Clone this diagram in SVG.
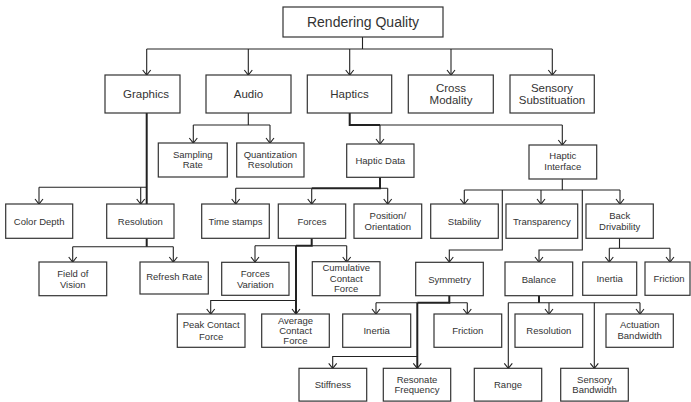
<svg xmlns="http://www.w3.org/2000/svg" width="691" height="402" viewBox="0 0 691 402">
<style>
rect{fill:#fff;stroke:#333;stroke-width:1.2}
text{font-family:"Liberation Sans",Arial,sans-serif;fill:#333;text-anchor:middle}
.t0{font-size:14px}
.t1{font-size:11.5px}
.t2{font-size:9.5px}
#connectors path{fill:none;stroke:#222;stroke-width:1.1}
#connectors path.k{stroke-width:2}
#connectors path.a{marker-end:url(#ar)}
</style>
<defs>
<marker id="ar" markerUnits="userSpaceOnUse" markerWidth="8" markerHeight="10" refX="6" refY="5" orient="auto" viewBox="0 0 8 10">
<path d="M1,1 L6,5 L1,9" fill="none" stroke="#222" stroke-width="1.1"/>
</marker>
</defs>
<rect x="0" y="0" width="691" height="402" style="fill:#fff;stroke:none"/>
<g id="connectors">
<!-- root -->
<path d="M362.5,37 V49 M146.7,49 H552.3"/>
<path class="a" d="M146.7,49 V75"/>
<path class="a" d="M248.3,49 V75"/>
<path class="a" d="M349.7,49 V75"/>
<path class="a" d="M451,49 V75"/>
<path class="a" d="M552.3,49 V75"/>
<!-- audio -->
<path d="M248.3,113 V125 M193.3,125 H270"/>
<path class="a" d="M193.3,125 V143"/>
<path class="a" d="M270,125 V143"/>
<!-- haptics -->
<path class="k" d="M349.7,113 V125 H380"/>
<path d="M380,125 H562.3"/>
<path class="a" d="M380,125 V144"/>
<path class="a" d="M562.3,125 V145"/>
<!-- graphics -->
<path class="k" d="M146.7,113 V246.7"/>
<path d="M39,187.3 H146.7 M72.7,246.7 H173.3"/>
<path class="a" d="M39,187.3 V204"/>
<path class="a" d="M140.7,187.3 V204"/>
<path class="a" d="M72.7,246.7 V262"/>
<path class="a" d="M173.3,246.7 V262"/>
<!-- haptic data -->
<path class="k" d="M380,177 V188.3 H311.7"/>
<path d="M235.7,188.3 H311.7 M380,188.3 H387.7"/>
<path class="a" d="M235.7,188.3 V204"/>
<path class="a" d="M311.7,188.3 V204"/>
<path class="a" d="M387.7,188.3 V204"/>
<!-- haptic interface -->
<path d="M562.3,179 V190 M464.3,190 H620"/>
<path class="a" d="M464.3,190 V204"/>
<path class="a" d="M541,190 V204"/>
<path class="a" d="M620,190 V204"/>
<path class="a" d="M502.3,190 V250 H449.3 V262"/>
<path class="a" d="M582.3,190 V250 H539 V262"/>
<!-- back drivability -->
<path d="M619.5,238 V248.3 M609.3,248.3 H670"/>
<path class="a" d="M609.3,248.3 V262"/>
<path class="a" d="M670,248.3 V262"/>
<!-- forces -->
<path class="k" d="M311.7,238 V245.7 H296"/>
<path class="k a" d="M296,245.7 V314"/>
<path d="M255,245.7 H296 M311.7,245.7 H346.7"/>
<path class="a" d="M255,245.7 V262"/>
<path class="a" d="M346.7,245.7 V262"/>
<path class="a" d="M296,300.5 H210.7 V314"/>
<!-- symmetry -->
<path class="k" d="M449.3,295.7 V302.7 H417.3"/>
<path class="k a" d="M417.3,302.7 V368.3"/>
<path d="M376,302.7 H417.3 M449.3,302.7 H467.3"/>
<path class="a" d="M376,302.7 V314"/>
<path class="a" d="M467.3,302.7 V314"/>
<path class="a" d="M417.3,356.5 H332.7 V368.3"/>
<!-- balance -->
<path class="k" d="M539,295.7 V302.7"/>
<path d="M508.3,302.7 H640"/>
<path class="a" d="M549,302.7 V314"/>
<path class="a" d="M640,302.7 V314"/>
<path class="a" d="M508.3,302.7 V368.3"/>
<path class="a" d="M594.3,302.7 V368.3"/>
</g>

<g id="n-rendering"><rect x="283" y="7" width="160" height="30"/><text class="t0" x="363" y="27">Rendering Quality</text></g>

<g id="n-graphics"><rect x="105" y="75" width="75" height="38"/><text class="t1" x="146" y="98">Graphics</text></g>
<g id="n-audio"><rect x="206" y="75" width="85" height="38"/><text class="t1" x="248.5" y="98">Audio</text></g>
<g id="n-haptics"><rect x="307.3" y="75" width="84.4" height="38"/><text class="t1" x="349.5" y="98">Haptics</text></g>
<g id="n-cross"><rect x="408.3" y="75" width="85" height="38"/><text class="t1" x="451" y="91.5">Cross</text><text class="t1" x="451" y="104">Modality</text></g>
<g id="n-sensory"><rect x="510" y="75" width="84.3" height="38"/><text class="t1" x="552" y="91.5">Sensory</text><text class="t1" x="552" y="104">Substituation</text></g>

<g id="n-sampling"><rect x="158.3" y="143" width="69" height="34"/><text class="t2" x="192.8" y="158.3">Sampling</text><text class="t2" x="192.8" y="168">Rate</text></g>
<g id="n-quant"><rect x="236.7" y="143" width="67.3" height="34"/><text class="t2" x="270.3" y="158.3">Quantization</text><text class="t2" x="270.3" y="168">Resolution</text></g>
<g id="n-hdata"><rect x="346.7" y="144" width="67.3" height="33.3"/><text class="t2" x="380.3" y="163.5">Haptic Data</text></g>
<g id="n-hint"><rect x="529" y="145" width="67.7" height="34"/><text class="t2" x="562.8" y="159.3">Haptic</text><text class="t2" x="562.8" y="170">Interface</text></g>

<g id="n-color"><rect x="5.7" y="204" width="67" height="34.3"/><text class="t2" x="39.2" y="224.5">Color Depth</text></g>
<g id="n-res1"><rect x="106.7" y="204" width="67.3" height="34.3"/><text class="t2" x="140.3" y="224.5">Resolution</text></g>
<g id="n-time"><rect x="201.7" y="204" width="67.6" height="34.3"/><text class="t2" x="235.5" y="224.5">Time stamps</text></g>
<g id="n-forces"><rect x="278.3" y="204" width="67.4" height="34.3"/><text class="t2" x="312" y="224.5">Forces</text></g>
<g id="n-pos"><rect x="354" y="204" width="67.7" height="34.3"/><text class="t2" x="387.8" y="219.3">Position/</text><text class="t2" x="387.8" y="229.5">Orientation</text></g>
<g id="n-stab"><rect x="430.7" y="204" width="67.6" height="34.3"/><text class="t2" x="464.5" y="224.5">Stability</text></g>
<g id="n-trans"><rect x="506" y="204" width="71.7" height="34.3"/><text class="t2" x="541.8" y="224.5">Transparency</text></g>
<g id="n-back"><rect x="586" y="204" width="67.3" height="34.3"/><text class="t2" x="619.7" y="219.3">Back</text><text class="t2" x="619.7" y="229.5">Drivability</text></g>

<g id="n-fov"><rect x="39" y="262" width="67.7" height="33.7"/><text class="t2" x="72.8" y="277.3">Field of</text><text class="t2" x="72.8" y="287.5">Vision</text></g>
<g id="n-refresh"><rect x="140" y="262" width="68.3" height="32"/><text class="t2" x="174.2" y="280">Refresh Rate</text></g>
<g id="n-fvar"><rect x="221.7" y="262.3" width="67.3" height="33"/><text class="t2" x="255.3" y="277.3">Forces</text><text class="t2" x="255.3" y="287.5">Variation</text></g>
<g id="n-cum"><rect x="312.3" y="261.7" width="67.7" height="34"/><text class="t2" x="346.2" y="270.6">Cumulative</text><text class="t2" x="346.2" y="281.8">Contact</text><text class="t2" x="346.2" y="292.3">Force</text></g>
<g id="n-sym"><rect x="415.7" y="262.3" width="67.6" height="33.4"/><text class="t2" x="449.5" y="282.5">Symmetry</text></g>
<g id="n-bal"><rect x="505" y="262" width="67.7" height="33.7"/><text class="t2" x="538.8" y="282.5">Balance</text></g>
<g id="n-inertia1"><rect x="582.7" y="262" width="54" height="33.3"/><text class="t2" x="609.7" y="282.3">Inertia</text></g>
<g id="n-friction1"><rect x="645" y="262" width="45" height="33.3"/><text class="t2" x="669" y="282.3">Friction</text></g>

<g id="n-peak"><rect x="177.3" y="314" width="67.7" height="33.3"/><text class="t2" x="211.2" y="328.3">Peak Contact</text><text class="t2" x="211.2" y="339.5">Force</text></g>
<g id="n-avg"><rect x="261.7" y="314" width="67.6" height="33.3"/><text class="t2" x="295.5" y="323.5">Average</text><text class="t2" x="295.5" y="333.7">Contact</text><text class="t2" x="295.5" y="344">Force</text></g>
<g id="n-inertia2"><rect x="342.7" y="314" width="68" height="33.3"/><text class="t2" x="376.7" y="334">Inertia</text></g>
<g id="n-friction2"><rect x="434" y="314" width="67.7" height="33.3"/><text class="t2" x="467.8" y="334">Friction</text></g>
<g id="n-res2"><rect x="515" y="314" width="67.7" height="33.3"/><text class="t2" x="548.8" y="334">Resolution</text></g>
<g id="n-act"><rect x="606" y="314" width="67.3" height="33.3"/><text class="t2" x="639.7" y="327.8">Actuation</text><text class="t2" x="639.7" y="339">Bandwidth</text></g>

<g id="n-stiff"><rect x="299" y="368.3" width="67.7" height="32.8"/><text class="t2" x="332.8" y="388.3">Stiffness</text></g>
<g id="n-reson"><rect x="383.3" y="368.3" width="67.4" height="32.8"/><text class="t2" x="417" y="382.6">Resonate</text><text class="t2" x="417" y="392.8">Frequency</text></g>
<g id="n-range"><rect x="474.3" y="368.3" width="67.4" height="32.8"/><text class="t2" x="508" y="388.3">Range</text></g>
<g id="n-sbw"><rect x="560.7" y="368.3" width="67.6" height="32.8"/><text class="t2" x="594.5" y="383.3">Sensory</text><text class="t2" x="594.5" y="392.8">Bandwidth</text></g>
</svg>
